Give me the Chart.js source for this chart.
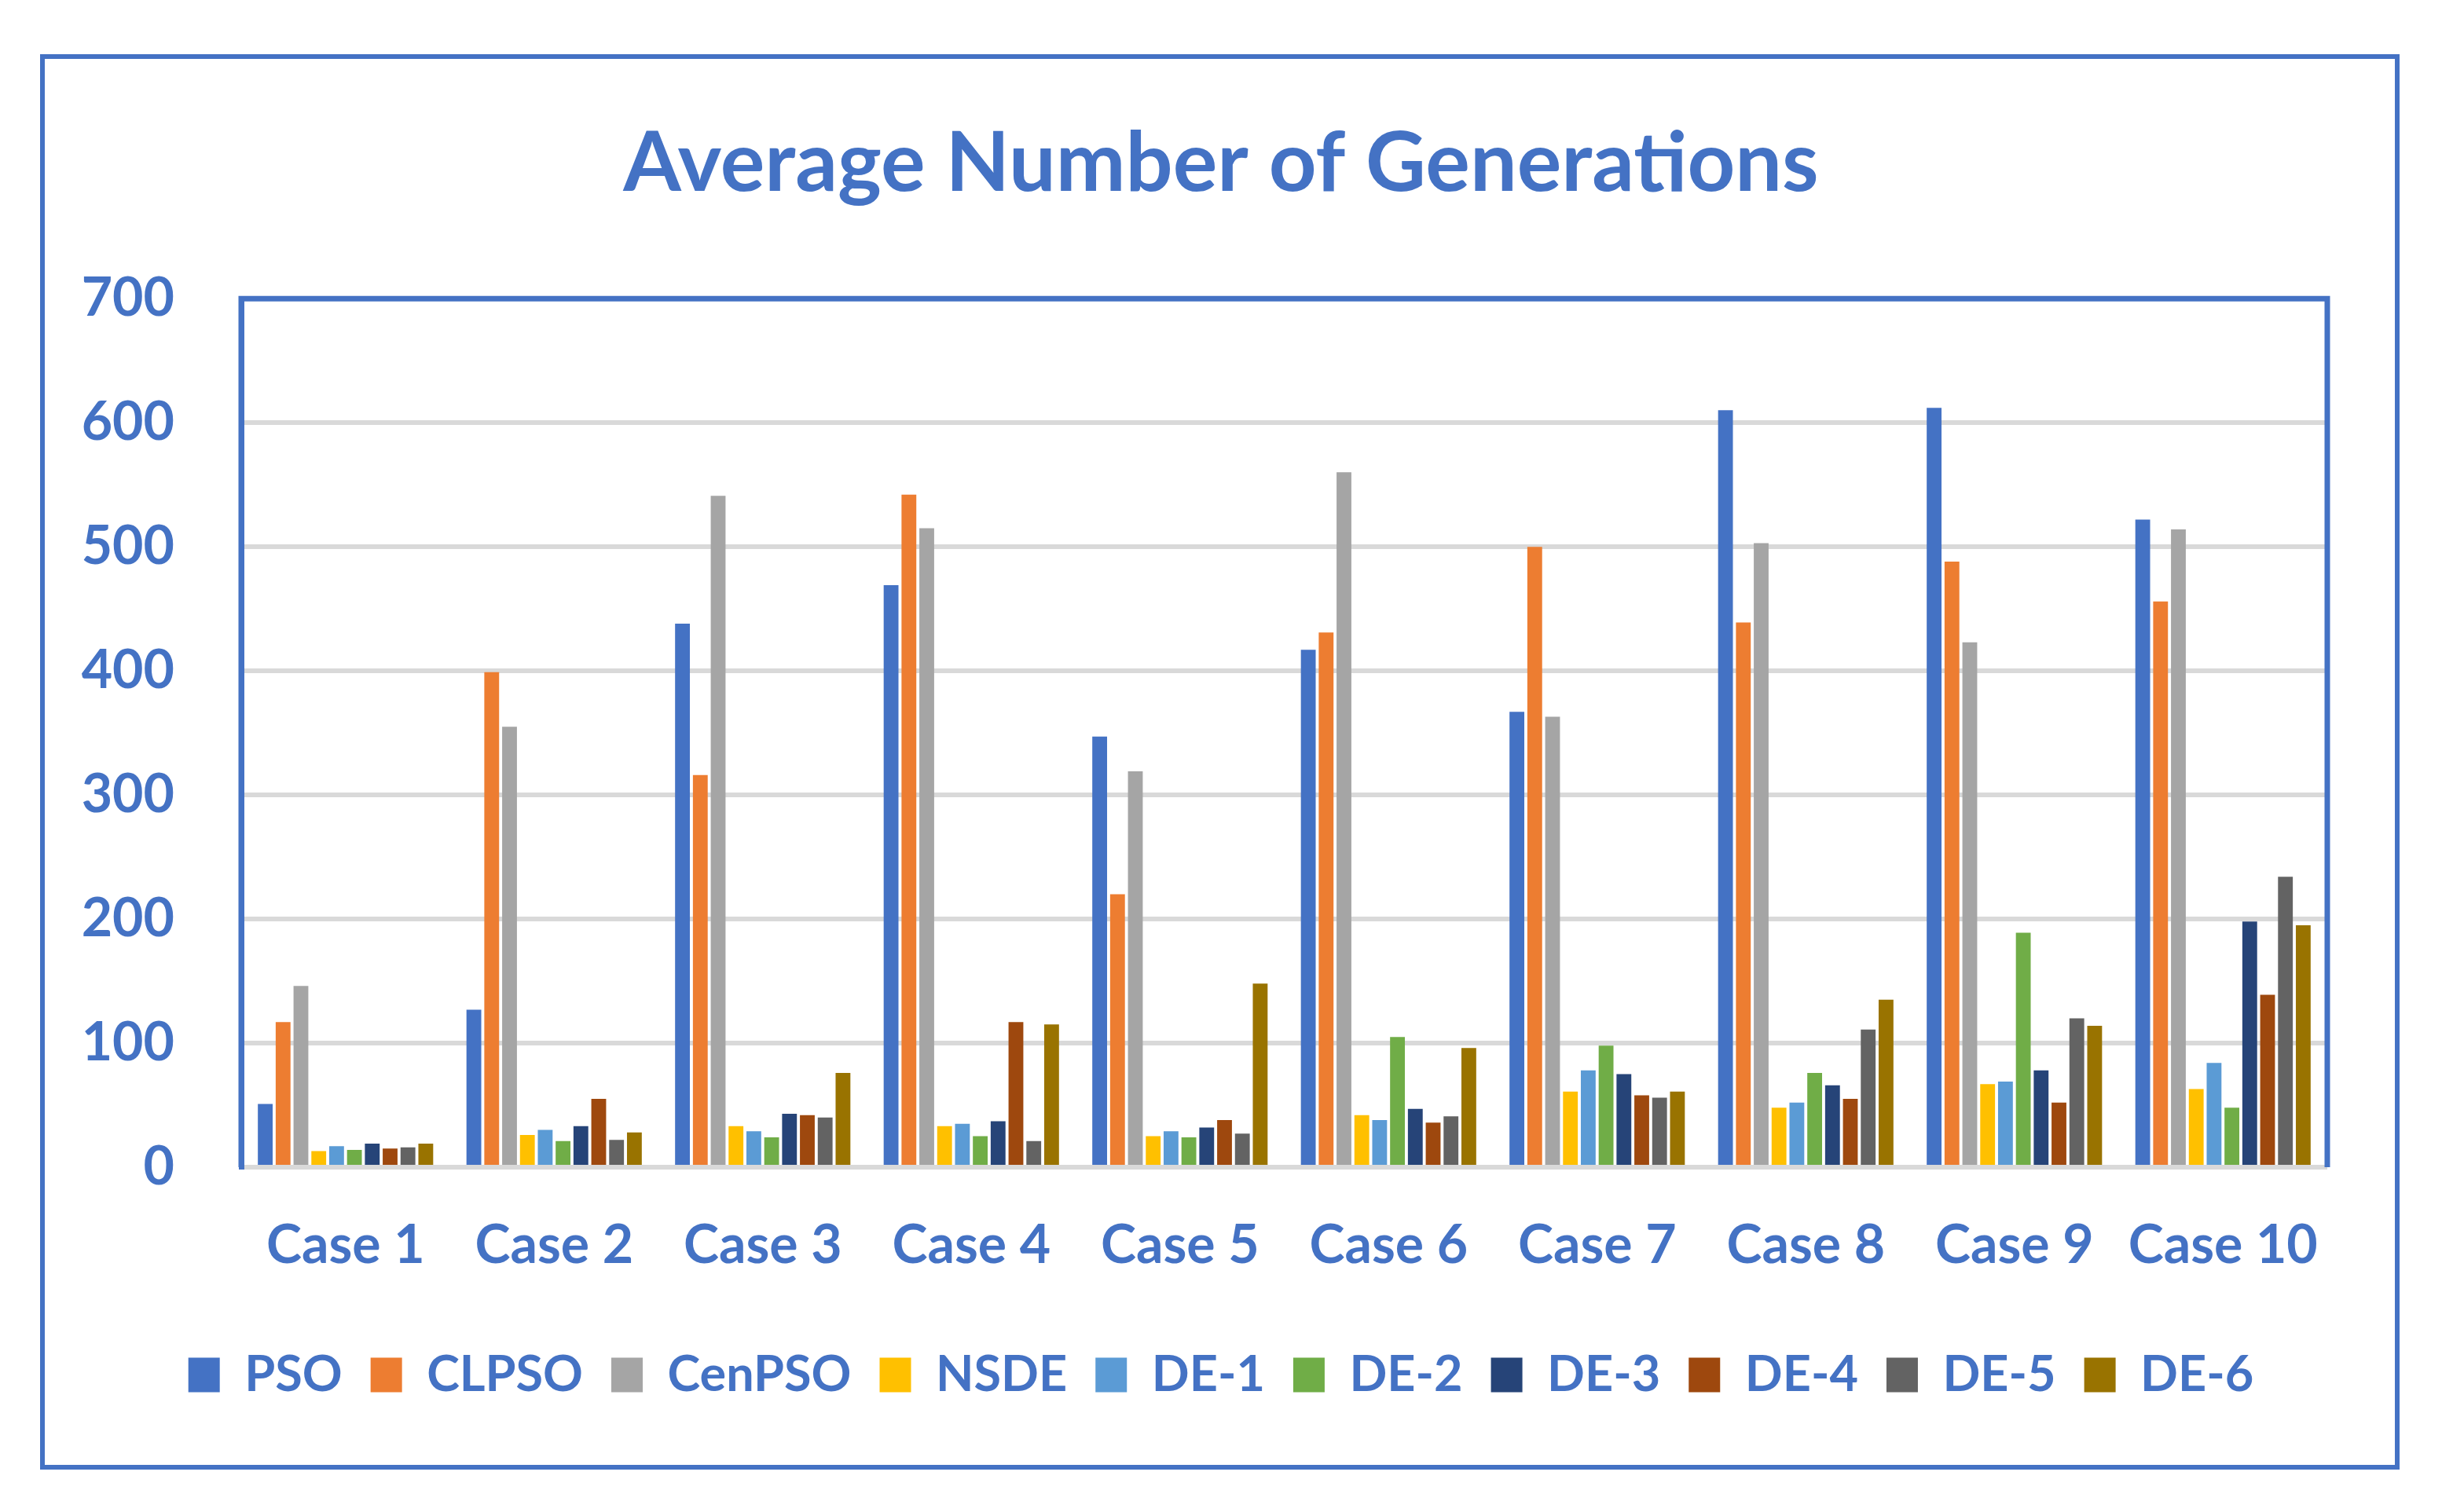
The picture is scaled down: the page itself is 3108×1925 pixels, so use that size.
<!DOCTYPE html>
<html>
<head>
<meta charset="utf-8">
<script src="https://cdn.jsdelivr.net/npm/chart.js@4.4.1/dist/chart.umd.min.js"></script>
<style>
    html, body { margin: 0; padding: 0; background: #ffffff; }
    canvas { display: block; }
</style>
</head>
<body>
<canvas id="generations" width="3108" height="1925"></canvas>
<script>
const cases = ['Case 1', 'Case 2', 'Case 3', 'Case 4', 'Case 5', 'Case 6', 'Case 7', 'Case 8', 'Case 9', 'Case 10'];

const pso    = [51, 127, 438, 469, 347, 417, 367, 610, 612, 522];
const clpso  = [117, 399, 316, 542, 220, 431, 500, 439, 488, 456];
const cenpso = [146, 355, 541, 515, 319, 560, 363, 503, 423, 514];
const nsde   = [13, 26, 33, 33, 25, 42, 61, 48, 67, 63];
const de1    = [17, 30, 29, 35, 29, 38, 78, 52, 69, 84];
const de2    = [14, 21, 24, 25, 24, 105, 98, 76, 189, 48];
const de3    = [19, 33, 43, 37, 32, 47, 75, 66, 78, 198];
const de4    = [15, 55, 42, 117, 38, 36, 58, 55, 52, 139];
const de5    = [16, 22, 40, 21, 27, 41, 56, 111, 120, 234];
const de6    = [19, 28, 76, 115, 148, 96, 61, 135, 114, 195];

const yTicks = [0, 100, 200, 300, 400, 500, 600, 700];

const blue = '#4472C4';
const fontFamily = 'Lato, "Open Sans", sans-serif';

function series(label, values, color) {
    return {
        label: label,
        data: values,
        backgroundColor: color,
        borderWidth: 0,
        categoryPercentage: 0.855,
        barPercentage: 0.83
    };
}

// рамки вокруг всей картинки и вокруг области графика
const framePlugin = {
    id: 'frames',
    beforeDraw(chart) {
        const ctx = chart.ctx;
        ctx.save();
        ctx.fillStyle = '#ffffff';
        ctx.fillRect(0, 0, chart.width, chart.height);
        ctx.restore();
    },
    afterDraw(chart) {
        const ctx = chart.ctx;
        const a = chart.chartArea;
        ctx.save();
        ctx.strokeStyle = blue;
        ctx.lineWidth = 6;
        ctx.strokeRect(54, 72, 2997, 1796);
        ctx.lineWidth = 7;
        ctx.beginPath();
        ctx.moveTo(a.left, a.bottom);
        ctx.lineTo(a.left, a.top);
        ctx.lineTo(a.right, a.top);
        ctx.lineTo(a.right, a.bottom);
        ctx.stroke();
        ctx.restore();
    }
};

const ctx = document.getElementById('generations').getContext('2d');

new Chart(ctx, {
    type: 'bar',
    data: {
        labels: cases,
        datasets: [
            series('PSO', pso, '#4472C4'),
            series('CLPSO', clpso, '#ED7D31'),
            series('CenPSO', cenpso, '#A5A5A5'),
            series('NSDE', nsde, '#FFC000'),
            series('DE-1', de1, '#5B9BD5'),
            series('DE-2', de2, '#70AD47'),
            series('DE-3', de3, '#264478'),
            series('DE-4', de4, '#9E480E'),
            series('DE-5', de5, '#636363'),
            series('DE-6', de6, '#997300')
        ]
    },
    options: {
        responsive: false,
        animation: false,
        devicePixelRatio: 1,
        layout: {
            padding: { left: 0, right: 0, top: 0, bottom: 133 }
        },
        plugins: {
            title: {
                display: true,
                text: 'Average Number of Generations',
                color: blue,
                font: { family: fontFamily, size: 106, weight: 'bold' },
                padding: { top: 145, bottom: 108 }
            },
            legend: {
                display: true,
                position: 'bottom',
                labels: {
                    color: blue,
                    font: { family: fontFamily, size: 63, weight: 'bold' },
                    boxWidth: 40,
                    boxHeight: 44,
                    padding: 36
                }
            },
            tooltip: { enabled: false }
        },
        scales: {
            x: {
                grid: { display: false, drawTicks: false },
                border: { display: false },
                ticks: {
                    color: blue,
                    padding: 59,
                    font: { family: fontFamily, size: 68, weight: 'bold' }
                },
                afterFit: function(scale) {
                    scale.height = 197;
                }
            },
            y: {
                min: 0,
                max: 700,
                afterBuildTicks: function(scale) {
                    scale.ticks = yTicks.map(v => ({ value: v }));
                },
                grid: { color: '#D9D9D9', lineWidth: 6, drawTicks: false },
                border: { display: true, color: blue, width: 7 },
                ticks: {
                    color: blue,
                    padding: 85,
                    font: { family: fontFamily, size: 68, weight: 'bold' }
                },
                afterFit: function(scale) {
                    scale.width = 307;
                }
            },
            // пустая ось справа, только чтобы оставить поле
            yPad: {
                position: 'right',
                display: true,
                grid: { display: false, drawTicks: false },
                border: { display: false },
                ticks: { display: false },
                afterFit: function(scale) {
                    scale.width = 146;
                }
            }
        }
    },
    plugins: [framePlugin]
});
</script>
</body>
</html>
